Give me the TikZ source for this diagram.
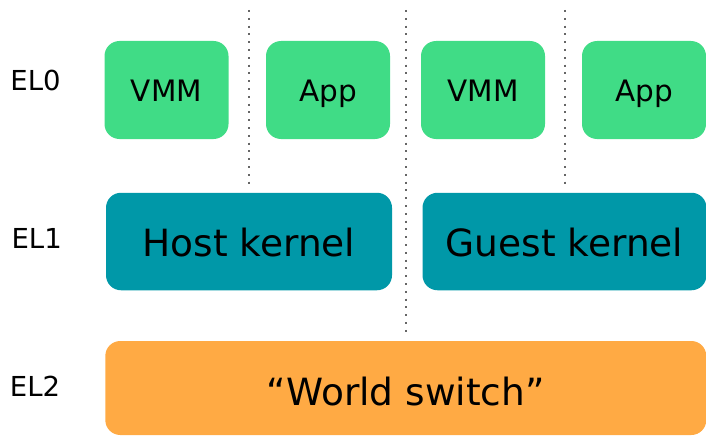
\documentclass[tikz,border=0pt]{standalone}
\usepackage{fontspec}
\setmainfont{DejaVu Sans}
\definecolor{appgreen}{HTML}{40DC86}
\definecolor{kernteal}{HTML}{0098A8}
\definecolor{hyporange}{HTML}{FFAA44}
\definecolor{sepgray}{HTML}{666666}
\begin{document}
\begin{tikzpicture}[x=1pt,y=-1pt,
  box/.style={rounded corners=15pt, inner sep=0pt, text depth=0pt, anchor=center},
  smallbox/.style={box, fill=appgreen, minimum width=124pt, minimum height=98pt,
    font=\fontsize{29.5}{34}\selectfont, text height=22.8pt},
  kernbox/.style={box, fill=kernteal, minimum height=97.5pt,
    font=\fontsize{37.5}{44}\selectfont, text height=30pt},
  hypbox/.style={box, fill=hyporange, minimum height=94pt,
    font=\fontsize{37.5}{44}\selectfont, text height=35pt},
  level/.style={anchor=base, inner sep=0pt, font=\fontsize{27.5}{32}\selectfont},
  separator/.style={sepgray, line width=2pt, dash pattern=on 2pt off 5.8pt}
]
\useasboundingbox (0,0) rectangle (706,436);

% exception level labels
\node[level] (el0) at (35.5,90.7) {EL0};
\node[level] (el1) at (36.7,248.3) {EL1};
\node[level] (el2) at (35,396.7) {EL2};

% partition separators
\coordinate (s1t) at (249,10);   \coordinate (s1b) at (249,188);
\coordinate (s2t) at (406,10);   \coordinate (s2b) at (406,336);
\coordinate (s3t) at (564.5,10); \coordinate (s3b) at (564.5,188);
\draw[separator] (s1t) -- (s1b);
\draw[separator] (s2t) -- (s2b);
\draw[separator] (s3t) -- (s3b);

% EL0: user space
\node[smallbox] (vmm1) at (166.5,90) {VMM};
\node[smallbox] (app1) at (328,90) {App};
\node[smallbox] (vmm2) at (483,90) {VMM};
\node[smallbox] (app2) at (644,90) {App};

% EL1: kernels
\node[kernbox, minimum width=286pt] (host) at (249,241.5) {Host kernel};
\node[kernbox, minimum width=284pt] (guest) at (564.5,241.5) {Guest kernel};

% EL2: hypervisor
\node[hypbox, minimum width=601pt] (world) at (405.8,388) {“World switch”};
\end{tikzpicture}
\end{document}
